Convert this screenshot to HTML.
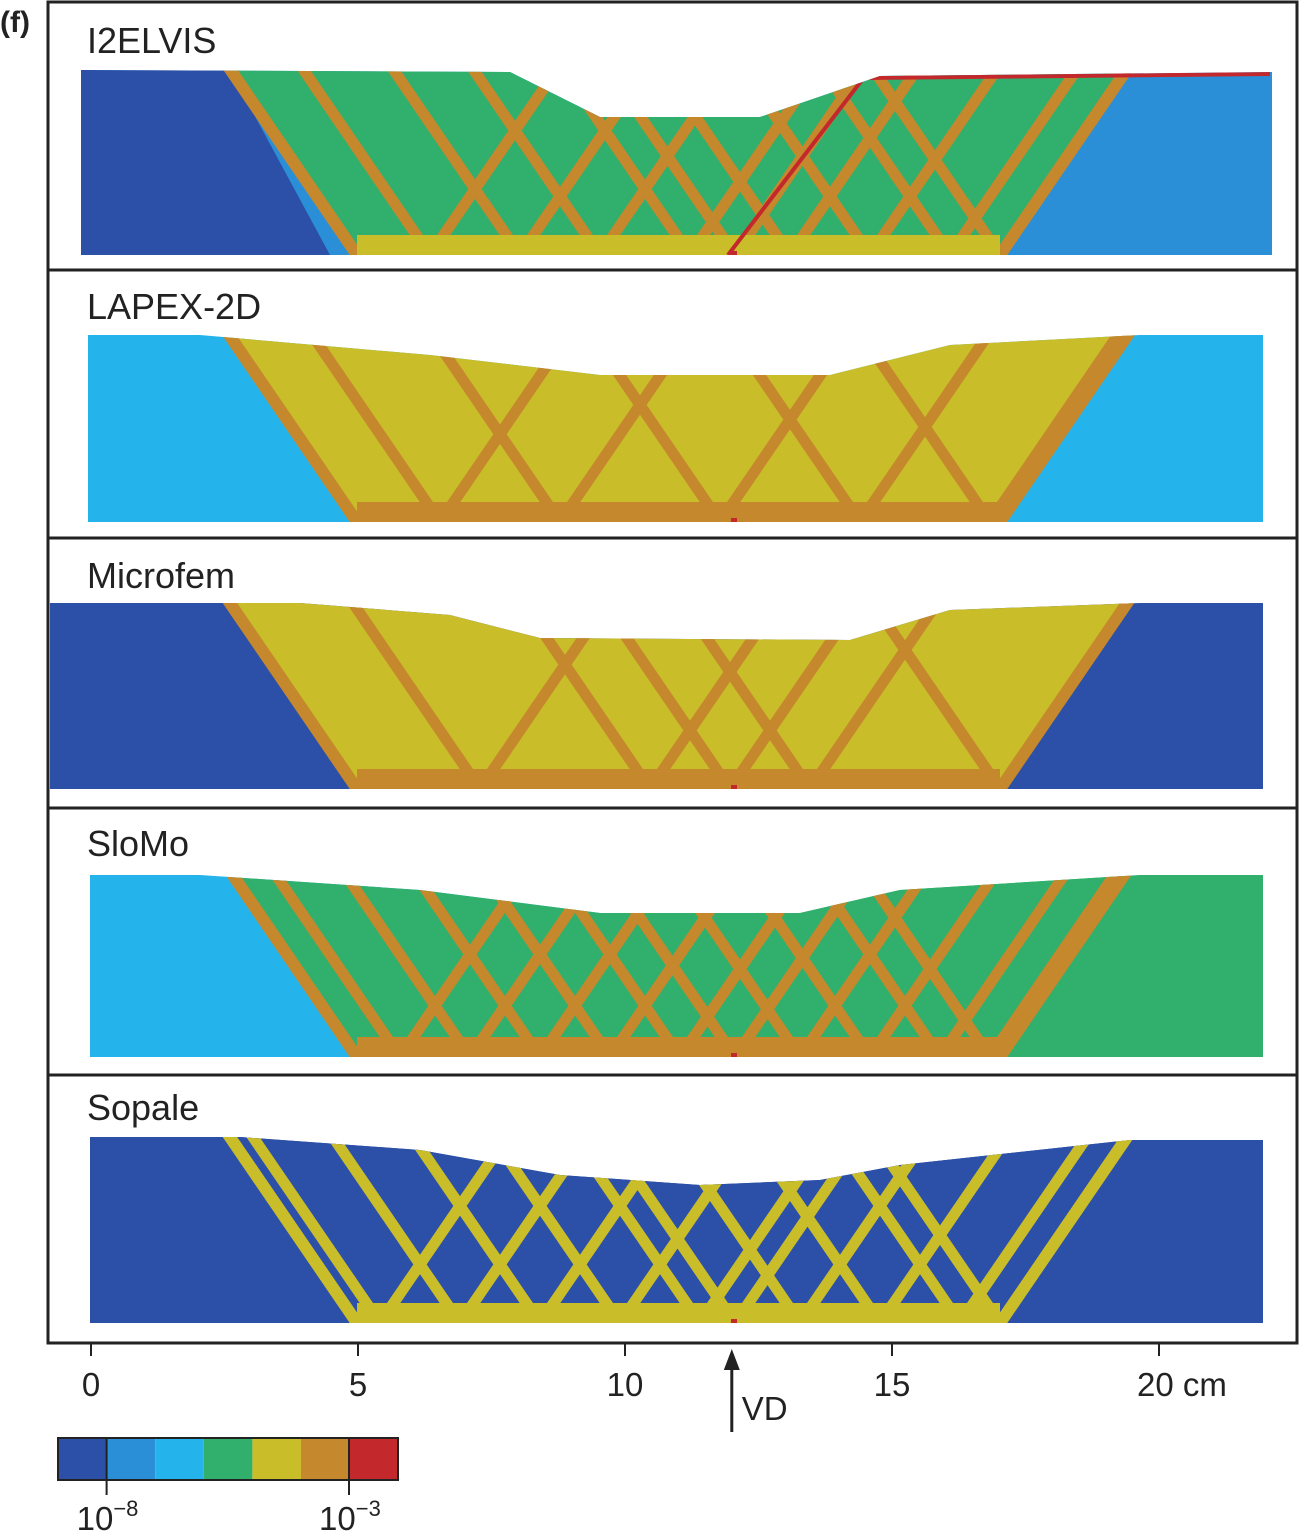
<!DOCTYPE html>
<html><head><meta charset="utf-8"><style>
html,body{margin:0;padding:0;background:#fff;}
svg{display:block;font-family:"Liberation Sans",sans-serif;}
</style></head><body>
<svg id="s" width="1303" height="1533" viewBox="0 0 1303 1533">
<defs id="defs"></defs>
<rect x="48" y="2" width="1249" height="1341" fill="none" stroke="#222" stroke-width="3"/>
<text x="0" y="32" font-size="30" font-weight="bold" fill="#222">(f)</text>
<g id="panels"></g>
<g id="axis"></g>
<g id="cbar"></g>
</svg>
<script>
const NS='http://www.w3.org/2000/svg';
const svg=document.getElementById('s');
function mk(tag,attrs,parent){const e=document.createElementNS(NS,tag);for(const k in attrs)e.setAttribute(k,attrs[k]);(parent||svg).appendChild(e);return e;}
const C={db:'#2c4fa7',mb:'#2b8fd8',lb:'#25b3eb',gr:'#30b06c',ye:'#c9bd2a',or:'#c5882c',rd:'#c3282d'};

const modelNames=['I2ELVIS','LAPEX-2D','Microfem','SloMo','Sopale'];
const dividers=[270,538,808,1075];
const panelTop=[70,335,603,875,1137];
const panelBottom=[255,522,789,1057,1323];
const panelLeft=[81,88,50,90,90];
const panelRight=[1272,1263,1263,1263,1263];
// surface profiles: [x, y] pairs
const surfaces=[
 [[510,72],[600,117],[760,117],[880,76],[1272,72]],
 [[200,335],[430,355],[600,375],[830,375],[950,345],[1140,335]],
 [[300,603],[450,615],[540,638],[850,640],[950,610],[1140,603]],
 [[200,875],[420,890],[600,913],[800,913],[900,890],[1140,875]],
 [[240,1137],[420,1150],[560,1175],[700,1185],[820,1180],[900,1165],[1130,1140]]
];
const sideLeft=[C.mb,C.lb,C.db,C.lb,C.db];
const sideRight=[C.mb,C.lb,C.db,C.gr,C.db];
const basinFill=[C.gr,C.ye,C.ye,C.gr,C.db];
const bandColor=[C.or,C.or,C.or,C.or,C.ye];
const stripColor=[C.ye,C.or,C.or,C.or,C.ye];
const bandOrigins=[
 [430,520,600,690,735,790,870,950,1000],
 [440,560,720,860,990],
 [480,650,730,810,1000],
 [400,470,540,610,680,735,800,870,940,990],
 [380,460,540,620,700,735,800,880,960,1000]
];

const panels=document.getElementById('panels');
dividers.forEach((y,i)=>{
 const l=mk('line',{x1:48,x2:1297,y1:y,y2:y,stroke:'#222','stroke-width':3},panels);
 
 
});
const defs=document.getElementById('defs');
modelNames.forEach((name,i)=>{
 const g=mk('g',{},panels);
 
 
 const t=panelTop[i],b=panelBottom[i],xl=panelLeft[i],xr=panelRight[i];
 const pts=[[xl,t]].concat(surfaces[i]).concat([[xr,surfaces[i][surfaces[i].length-1][1]],[xr,b],[xl,b]]);
 const surf=pts.map(p=>p.join(',')).join(' ');
 const cp=mk('clipPath',{id:'cp'+i},defs);
 mk('polygon',{points:surf},cp);
 const inner=mk('g',{'clip-path':`url(#cp${i})`},g);
 mk('rect',{x:xl,y:t-10,width:(xr-xl)/2,height:b-t+10,fill:sideLeft[i]},inner);
 mk('rect',{x:(xl+xr)/2,y:t-10,width:(xr-xl)/2,height:b-t+10,fill:sideRight[i]},inner);
 if(i===0){mk('polygon',{points:`${xl},${t} 230,${t} 330,${b} ${xl},${b}`,fill:C.db},inner);}
 const h=b-t;
 const bas=mk('polygon',{points:`${357-0.72*h},${t-10} ${1000+0.72*h},${t-10} 1000,${b} 357,${b}`,fill:basinFill[i]},inner);
 
 
 bandOrigins[i].forEach(x0=>{
  [-1,1].forEach(s=>{
   const ln=mk('line',{x1:x0,y1:b,x2:x0+s*0.72*h,y2:t-10,stroke:bandColor[i],'stroke-width':11},inner);
   
   
  });
 });
 [357-0.72*h,1000+0.72*h].forEach((xt,k)=>{
  mk('line',{x1:k?1000:357,y1:b,x2:xt,y2:t-10,stroke:bandColor[i],'stroke-width':12},inner);
 });
 mk('rect',{x:357,y:b-20,width:643,height:20,fill:stripColor[i]},inner);
 if(i===0){mk('line',{x1:728,y1:b,x2:862,y2:t+10,stroke:C.rd,'stroke-width':4},inner);
  mk('line',{x1:862,y1:t+8,x2:1270,y2:t+4,stroke:C.rd,'stroke-width':4},inner);}
 mk('rect',{x:731,y:b-4,width:6,height:4,fill:C.rd},inner);
 const lab=mk('text',{x:87,y:[53,319,588,856,1120][i],'font-size':36,fill:'#222'},g);
 lab.textContent=name;
 
 
});

const tickVals=[0,5,10,15,20];
const tickLabels=['0','5','10','15','20 cm'];
const xs=v=>91+v*53.4;
const ax=document.getElementById('axis');
const al=mk('line',{x1:48,x2:1297,y1:1343,y2:1343,stroke:'#222','stroke-width':3},ax);


tickVals.forEach((v,i)=>{
 const tk=mk('line',{x1:xs(v),x2:xs(v),y1:1343,y2:1356,stroke:'#222','stroke-width':2},ax);
 
 
 const tx=mk('text',{x:i===4?xs(v)-22:xs(v),y:1396,'font-size':33,'text-anchor':i===4?'start':'middle',fill:'#222'},ax);
 tx.textContent=tickLabels[i];
 
 
});
const vdX=xs(12);
const ar=mk('line',{x1:vdX,x2:vdX,y1:1432,y2:1362,stroke:'#222','stroke-width':3},ax);


mk('polygon',{points:`${vdX-8},${1370} ${vdX+8},${1370} ${vdX},${1349}`,fill:'#222'},ax);
const vd=mk('text',{x:vdX+10,y:1420,'font-size':33,fill:'#222'},ax);
vd.textContent='VD';



const cbColors=[C.db,C.mb,C.lb,C.gr,C.ye,C.or,C.rd];
const cbLabels=['10','10'];
const cbExp=['\u22128','\u22123'];
const cb=document.getElementById('cbar');
cbColors.forEach((c,i)=>{
 const r=mk('rect',{x:58+i*48.6,y:1438,width:48.6,height:42,fill:c},cb);
 
 
});
const cf=mk('rect',{x:58,y:1438,width:340,height:42,fill:'none',stroke:'#222','stroke-width':2},cb);


[106.6,349].forEach((x,i)=>{
 mk('line',{x1:x,x2:x,y1:1438,y2:1495,stroke:'#222','stroke-width':2},cb);
 const t=mk('text',{x:x-30,y:1530,'font-size':33,fill:'#222'},cb);
 t.textContent=cbLabels[i];
 
 
 const sp=mk('tspan',{dy:-14,'font-size':22},t);
 sp.textContent=cbExp[i];
});
</script>
</body></html>
